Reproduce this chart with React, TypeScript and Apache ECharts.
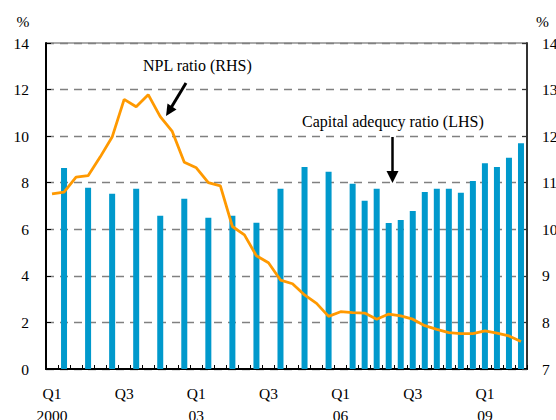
import React, { useEffect, useRef } from "react";
import * as echarts from "echarts";

const quarters: string[] = [];
for (const y of ["2000", "2001", "2002", "2003", "2004", "2005", "2006", "2007", "2008", "2009"]) {
  for (const q of ["Q1", "Q2", "Q3", "Q4"]) quarters.push(y + q);
}

const xTickLabels = ["Q1\n2000", "Q3", "Q1\n03", "Q3", "Q1\n06", "Q3", "Q1\n09"];

const capitalAdequacy: (number | null)[] = [
  null, 8.63, null, 7.78, null, 7.53, null, 7.74, null, 6.58,
  null, 7.31, null, 6.5, null, 6.58, null, 6.28, null, 7.74,
  null, 8.68, null, 8.47, null, 7.96, 7.23, 7.74, 6.27, 6.4,
  6.78, 7.6, 7.74, 7.74, 7.57, 8.07, 8.84, 8.68, 9.07, 9.7,
];

const nplRatio: number[] = [
  10.76, 10.8, 11.12, 11.15, 11.55, 11.98, 12.79, 12.63, 12.89, 12.42,
  12.1, 11.44, 11.32, 11.0, 10.93, 10.06, 9.88, 9.43, 9.28, 8.91,
  8.83, 8.59, 8.41, 8.13, 8.23, 8.21, 8.2, 8.07, 8.18, 8.14,
  8.07, 7.93, 7.85, 7.78, 7.76, 7.76, 7.82, 7.77, 7.71, 7.59,
];

const leftTicks = { min: 0, max: 14, interval: 2 };
const rightTicks = { min: 7, max: 14, interval: 1 };

const FONT = "'Liberation Serif', 'Times New Roman', 'DejaVu Serif', serif";

export default function App() {
  const ref = useRef<HTMLDivElement>(null);
  useEffect(() => {
    if (!ref.current) return;
    const chart = echarts.init(ref.current, null, { renderer: "svg" });
    chart.setOption({
      animation: false,
      textStyle: { fontFamily: FONT, color: "#000" },
      grid: {
        left: 46,
        right: 29,
        top: 43,
        bottom: 51,
        containLabel: false,
        outerBoundsMode: "none",
        show: true,
        borderColor: "#555",
        borderWidth: 1,
        backgroundColor: "transparent",
      },
      xAxis: {
        type: "category",
        data: quarters,
        boundaryGap: true,
        axisLine: { lineStyle: { color: "#000", width: 2 } },
        axisTick: { show: true, inside: true, length: 4, interval: 0, lineStyle: { color: "#000", width: 1 } },
        axisLabel: {
          interval: 5,
          margin: 13,
          fontFamily: FONT,
          fontSize: 15.5,
          lineHeight: 22,
          color: "#000",
          formatter: (_v: string, i: number) => xTickLabels[Math.round(i / 6)] ?? "",
        },
        splitLine: { show: false },
      },
      yAxis: [
        {
          type: "value",
          ...leftTicks,
          position: "left",
          axisLine: { show: true, lineStyle: { color: "#000", width: 2 } },
          axisTick: { show: true, inside: true, length: 5, lineStyle: { color: "#000" } },
          axisLabel: { margin: 17, fontFamily: FONT, fontSize: 15.5, color: "#000" },
          splitLine: { show: true, lineStyle: { color: "#808080", type: [8, 6], width: 1.3 } },
        },
        {
          type: "value",
          ...rightTicks,
          position: "right",
          axisLine: { show: true, lineStyle: { color: "#333", width: 2 } },
          axisTick: { show: true, inside: true, length: 5, lineStyle: { color: "#333" } },
          axisLabel: { margin: 15, fontFamily: FONT, fontSize: 15.5, color: "#000" },
          splitLine: { show: false },
        },
      ],
      series: [
        {
          name: "Capital adequcy ratio (LHS)",
          type: "bar",
          yAxisIndex: 0,
          data: capitalAdequacy,
          barWidth: 6,
          itemStyle: { color: "#0099CC" },
        },
        {
          name: "NPL ratio (RHS)",
          type: "line",
          yAxisIndex: 1,
          data: nplRatio,
          symbol: "none",
          lineStyle: { color: "#FF9900", width: 2.8 },
          z: 5,
        },
      ],
      graphic: [
        { type: "text", x: 23, y: 21, style: { text: "%", fontFamily: FONT, fontSize: 15.5, fill: "#000", align: "center", verticalAlign: "middle" } },
        { type: "text", x: 536, y: 21, style: { text: "%", fontFamily: FONT, fontSize: 15.5, fill: "#000", align: "left", verticalAlign: "middle" } },
        {
          type: "text",
          x: 143,
          y: 65,
          style: { text: "NPL ratio (RHS)", fontFamily: FONT, fontSize: 16, fill: "#000", verticalAlign: "middle", align: "left" },
        },
        {
          type: "text",
          x: 302,
          y: 121,
          style: { text: "Capital adequcy ratio (LHS)", fontFamily: FONT, fontSize: 16, fill: "#000", verticalAlign: "middle", align: "left" },
        },
        { type: "line", shape: { x1: 186, y1: 83, x2: 171.5, y2: 107 }, style: { stroke: "#000", lineWidth: 3 } },
        { type: "polygon", shape: { points: [[166, 116], [176.5, 109.5], [167.5, 103.5]] }, style: { fill: "#000" } },
        { type: "line", shape: { x1: 392.5, y1: 137, x2: 392.5, y2: 174 }, style: { stroke: "#000", lineWidth: 2.5 } },
        { type: "polygon", shape: { points: [[392.5, 183], [386.5, 171], [398.5, 171]] }, style: { fill: "#000" } },
      ],
    });
    return () => chart.dispose();
  }, []);
  return <div ref={ref} style={{ width: 556, height: 420, position: "absolute", left: 0, top: 0 }} />;
}
